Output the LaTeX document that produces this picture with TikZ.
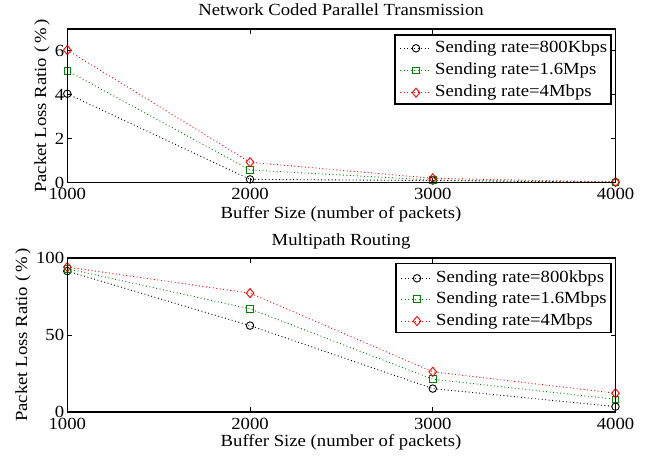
\documentclass[tikz,border=0pt]{standalone}
\usepackage{fontspec}
\setmainfont{Liberation Serif}[FakeStretch=1.1]
\usetikzlibrary{shapes.geometric}
\definecolor{mgreen}{rgb}{0,0.5,0}
\definecolor{mred}{rgb}{1,0,0}
\begin{document}
\begin{tikzpicture}[x=1pt,y=1pt, font=\fontsize{17}{19}\selectfont,
  axline/.style={line width=1.3pt},
  tickline/.style={line width=0.9pt},
  dotline/.style={line width=0.9pt, dash pattern=on 0.9pt off 2.6pt},
  cmark/.style={circle, draw, minimum size=7.5pt, inner sep=0pt, line width=0.9pt},
  smark/.style={rectangle, draw, minimum size=6.5pt, inner sep=0pt, line width=0.9pt},
  dmark/.style={diamond, draw, minimum width=8pt, minimum height=9.5pt, inner sep=0pt, line width=0.9pt},
  lbl/.style={inner sep=0pt},
  legbox/.style={draw, fill=white, line width=1.1pt},
]
\useasboundingbox (0,0) rectangle (655,458);
\fill[white] (0,0) rectangle (655,458);

% ---------------- top plot ----------------
\begin{scope}[shift={(67.3pt,275.3pt)}, x=182.73pt, y=21.96pt]
  \coordinate (tA) at (0,0);
  \coordinate (tB) at (3,7);
  \foreach \i in {1,2} {
    \draw[tickline] (\i,0) -- ++(0,5pt);
    \draw[tickline] (\i,7) -- ++(0,-5pt);
  }
  \foreach \v in {2,4,6} {
    \draw[tickline] (0,\v) -- ++(5pt,0);
    \draw[tickline] (3,\v) -- ++(-5pt,0);
  }
  \foreach \i/\t in {0/1000,1/2000,2/3000,3/4000}
    \node[lbl, anchor=north] (tx\i) at ([yshift=-5.5pt]\i,0) {\t};
  \foreach \v in {0,2,4,6}
    \node[lbl, anchor=east] (ty\v) at ([xshift=-3pt]0,\v) {\v};

  \coordinate (tk1) at (0,4.05); \coordinate (tk2) at (1,0.15);
  \coordinate (tk3) at (2,0.10); \coordinate (tk4) at (3,0.02);
  \coordinate (tg1) at (0,5.10); \coordinate (tg2) at (1,0.58);
  \coordinate (tg3) at (2,0.12); \coordinate (tg4) at (3,0.02);
  \coordinate (tr1) at (0,6.04); \coordinate (tr2) at (1,0.93);
  \coordinate (tr3) at (2,0.20); \coordinate (tr4) at (3,0.03);

  \draw[dotline, black] (tk1) -- (tk2) -- (tk3) -- (tk4);
  \foreach \j in {1,...,4} \node[cmark, black] (tkm\j) at (tk\j) {};
  \draw[dotline, mgreen] (tg1) -- (tg2) -- (tg3) -- (tg4);
  \foreach \j in {1,...,4} \node[smark, mgreen] (tgm\j) at (tg\j) {};
  \draw[dotline, mred] (tr1) -- (tr2) -- (tr3) -- (tr4);
  \foreach \j in {1,...,4} \node[dmark, mred] (trm\j) at (tr\j) {};

  \draw[axline] (tA) rectangle (tB);
\end{scope}

% top legend
\draw[legbox] (395,354) rectangle (611,423);
\coordinate (la1) at (400,409.7); \coordinate (lb1) at (431,409.7);
\coordinate (la2) at (400,387.3); \coordinate (lb2) at (431,387.3);
\coordinate (la3) at (400,365.3); \coordinate (lb3) at (431,365.3);
\draw[dotline, black] (la1) -- (lb1);
\node[cmark, black] (lm1) at (416,409.7) {};
\node[lbl, anchor=west] (lt1) at (435,409.7) {Sending rate=800Kbps};
\draw[dotline, mgreen] (la2) -- (lb2);
\node[smark, mgreen] (lm2) at (416,387.3) {};
\node[lbl, anchor=west] (lt2) at (435,387.3) {Sending rate=1.6Mps};
\draw[dotline, mred] (la3) -- (lb3);
\node[dmark, mred] (lm3) at (416,365.3) {};
\node[lbl, anchor=west] (lt3) at (435,365.3) {Sending rate=4Mbps};

\node[lbl, anchor=base] (title1) at (341,442) {Network Coded Parallel Transmission};
\node[lbl, anchor=base] (xlab1) at (341,239.7) {Buffer Size (number of packets)};
\node[lbl, rotate=90] (ylab1) at (42,352) {Packet Loss Ratio (\,\%\,)};

% ---------------- bottom plot ----------------
\begin{scope}[shift={(67.3pt,46pt)}, x=182.73pt, y=1.54pt]
  \coordinate (bA) at (0,0);
  \coordinate (bB) at (3,100);
  \foreach \i in {1,2} {
    \draw[tickline] (\i,0) -- ++(0,5pt);
    \draw[tickline] (\i,100) -- ++(0,-5pt);
  }
  \draw[tickline] (0,50) -- ++(5pt,0);
  \draw[tickline] (3,50) -- ++(-5pt,0);
  \foreach \i/\t in {0/1000,1/2000,2/3000,3/4000}
    \node[lbl, anchor=north] (bx\i) at ([yshift=-5.5pt]\i,0) {\t};
  \foreach \v in {0,50,100}
    \node[lbl, anchor=east] (by\v) at ([xshift=-3pt]0,\v) {\v};

  \coordinate (bk1) at (0,91.5); \coordinate (bk2) at (1,56.1);
  \coordinate (bk3) at (2,15.2); \coordinate (bk4) at (3,3.5);
  \coordinate (bg1) at (0,93.0); \coordinate (bg2) at (1,67.0);
  \coordinate (bg3) at (2,21.3); \coordinate (bg4) at (3,8.3);
  \coordinate (br1) at (0,94.1); \coordinate (br2) at (1,77.2);
  \coordinate (br3) at (2,26.1); \coordinate (br4) at (3,12.2);

  \draw[dotline, black] (bk1) -- (bk2) -- (bk3) -- (bk4);
  \foreach \j in {1,...,4} \node[cmark, black] (bkm\j) at (bk\j) {};
  \draw[dotline, mgreen] (bg1) -- (bg2) -- (bg3) -- (bg4);
  \foreach \j in {1,...,4} \node[smark, mgreen] (bgm\j) at (bg\j) {};
  \draw[dotline, mred] (br1) -- (br2) -- (br3) -- (br4);
  \foreach \j in {1,...,4} \node[dmark, mred] (brm\j) at (br\j) {};

  \draw[axline] (bA) rectangle (bB);
\end{scope}

% bottom legend
\draw[legbox] (396,125.3) rectangle (611,194.7);
\coordinate (ma1) at (401,179.7); \coordinate (mb1) at (432,179.7);
\coordinate (ma2) at (401,159.0); \coordinate (mb2) at (432,159.0);
\coordinate (ma3) at (401,137.0); \coordinate (mb3) at (432,137.0);
\draw[dotline, black] (ma1) -- (mb1);
\node[cmark, black] (mm1) at (417,179.7) {};
\node[lbl, anchor=west] (mt1) at (436,179.7) {Sending rate=800kbps};
\draw[dotline, mgreen] (ma2) -- (mb2);
\node[smark, mgreen] (mm2) at (417,159.0) {};
\node[lbl, anchor=west] (mt2) at (436,159.0) {Sending rate=1.6Mbps};
\draw[dotline, mred] (ma3) -- (mb3);
\node[dmark, mred] (mm3) at (417,137.0) {};
\node[lbl, anchor=west] (mt3) at (436,137.0) {Sending rate=4Mbps};

\node[lbl, anchor=base] (title2) at (341,212) {Multipath Routing};
\node[lbl, anchor=base] (xlab2) at (341,11.7) {Buffer Size (number of packets)};
\node[lbl, rotate=90] (ylab2) at (23,123) {Packet Loss Ratio (\,\%\,)};
\end{tikzpicture}
\end{document}
